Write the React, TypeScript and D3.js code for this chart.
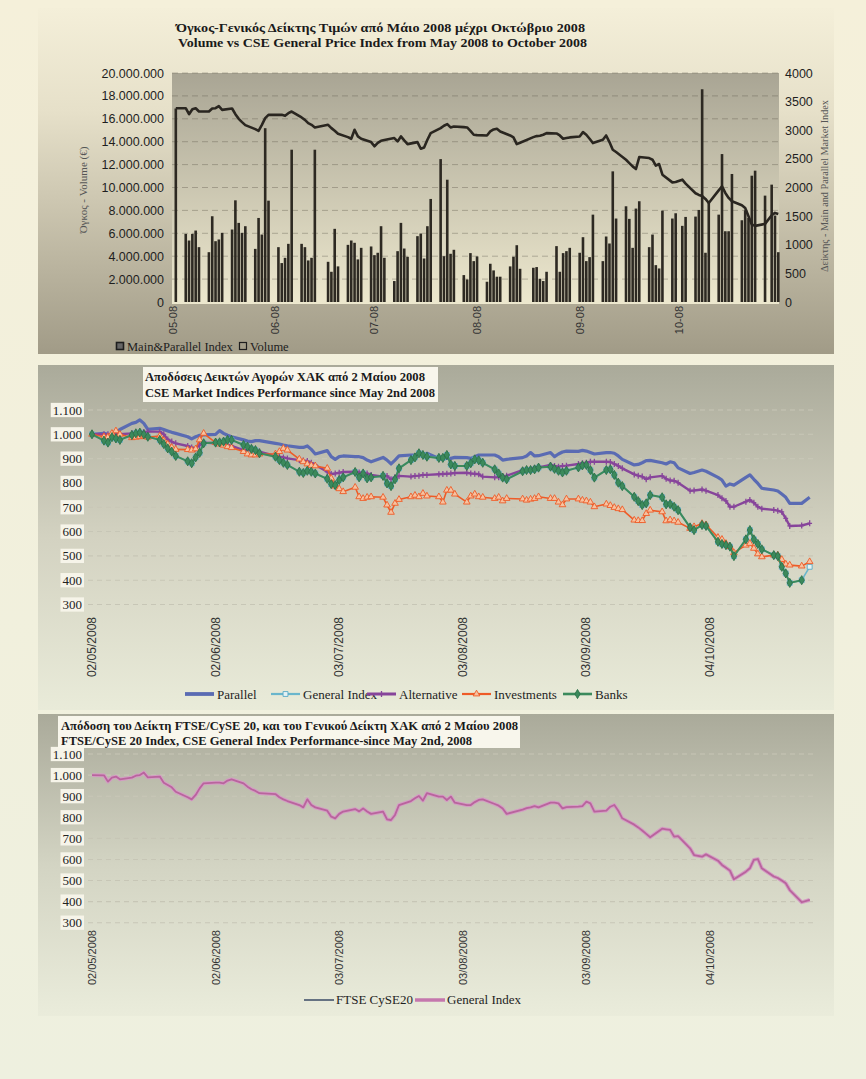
import * as d3 from "d3";

// trading days 2008 (month-day)
const TRADING_DAYS = [
  "05-02", "05-05", "05-06", "05-07", "05-08", "05-09", "05-12", "05-13", "05-14", "05-15", "05-16",
  "05-19", "05-20", "05-21", "05-22", "05-23", "05-26", "05-27", "05-28", "05-29", "05-30",
  "06-02", "06-03", "06-04", "06-05", "06-06", "06-09", "06-10", "06-11", "06-12", "06-13",
  "06-17", "06-18", "06-19", "06-20", "06-23", "06-24", "06-25", "06-26", "06-27", "06-30",
  "07-01", "07-02", "07-03", "07-04", "07-07", "07-08", "07-09", "07-10", "07-11", "07-14", "07-15",
  "07-16", "07-17", "07-18", "07-21", "07-22", "07-23", "07-24", "07-25", "07-28", "07-29", "07-30", "07-31",
  "08-01", "08-04", "08-05", "08-06", "08-07", "08-08", "08-11", "08-12", "08-13", "08-14",
  "08-18", "08-19", "08-20", "08-21", "08-22", "08-25", "08-26", "08-27", "08-28", "08-29",
  "09-01", "09-02", "09-03", "09-04", "09-05", "09-08", "09-09", "09-10", "09-11", "09-12",
  "09-15", "09-16", "09-17", "09-18", "09-19", "09-22", "09-23", "09-24", "09-25", "09-26", "09-29", "09-30",
  "10-02", "10-03", "10-06", "10-07", "10-08", "10-09", "10-10", "10-13", "10-14", "10-15", "10-16", "10-17",
  "10-20", "10-21", "10-22", "10-23", "10-24", "10-27", "10-29", "10-30", "10-31",
];

// chart 1: volume in millions of euro, main & parallel index
const VOLUME_M = [
  16.9,
  5.95, 5.37, 5.95, 6.24, 4.79, 4.35, 7.49, 5.31, 5.46, 6.04,
  6.33, 8.88, 6.91, 6.04, 6.62, 4.64, 7.34, 5.89, 15.18, 8.85,
  4.79, 3.4, 3.86, 5.08, 13.3, 5.08, 4.79, 3.63, 3.86, 13.3,
  3.51, 2.64, 6.39, 3.11, 4.99, 5.37, 5.17, 3.72, 4.73, 4.85,
  4.09, 4.3, 6.62, 3.86, 1.83, 4.44, 6.91, 4.67, 3.95, 5.75, 5.98,
  3.8, 6.62, 9.0, 12.48, 4.0, 10.68, 4.21, 4.56, 2.35, 1.97, 4.27, 3.57,
  3.98, 1.77, 3.34, 2.76, 2.21, 2.21, 3.11, 3.95, 4.96, 2.9,
  2.99, 3.05, 2.03, 1.83, 2.64, 4.88, 2.64, 4.27, 4.44, 4.73,
  4.3, 5.66, 3.57, 3.92, 7.63, 3.57, 5.72, 5.11, 11.41, 7.29,
  8.36, 7.26, 4.73, 8.16, 8.8, 4.79, 5.89, 3.22, 2.93, 7.98, 7.29, 7.75,
  6.65, 7.43, 7.46, 8.04, 18.58, 4.3, 8.68, 7.63, 12.92, 6.18, 6.18, 11.18,
  7.14, 8.01, 7.34, 11.03, 11.47, 9.29, 10.25, 7.55, 4.35,
];
const MAIN_INDEX = [
  3385,
  3385, 3281, 3368, 3385, 3327, 3327, 3380, 3385, 3420, 3356,
  3380, 3281, 3200, 3142, 3089, 3020, 2990, 3095, 3211, 3269,
  3269, 3269, 3252, 3298, 3327, 3223, 3182, 3124, 3095, 3049,
  3095, 3037, 2990, 2938, 2880, 2851, 3008, 2892, 2851, 2793,
  2720, 2780, 2816, 2828, 2863, 2805, 2892, 2822, 2758, 2793, 2677,
  2700, 2834, 2950, 3037, 3078, 3107, 3049, 3066, 3055, 3049, 2990, 2921,
  2915, 2909, 2979, 3014, 3026, 2979, 2909, 2875, 2758, 2782,
  2880, 2898, 2904, 2921, 2950, 2944, 2909, 2851, 2863, 2875,
  2892, 2967, 2921, 2851, 2776, 2834, 2909, 2793, 2660, 2619,
  2485, 2427, 2369, 2323, 2532, 2514, 2485, 2381, 2410, 2224, 2090, 2096,
  2137, 2067, 1900, 1870, 1850, 1800, 1730, 1950, 2021, 1905, 1818, 1760,
  1690, 1643, 1498, 1353, 1330, 1365, 1516, 1556, 1539,
];

// chart 2: market indices, base 1000 on 02/05/2008 (up to 29/10)
const PARALLEL = [
  1000,
  1004, 1000, 998, 1007, 1020, 1045, 1049, 1059, 1045, 1020,
  1025, 1020, 1014, 1008, 1004, 990, 981, 990, 996, 998,
  1000, 1015, 1004, 996, 990, 977, 972, 970, 974, 974,
  963, 960, 956, 953, 946, 946, 952, 938, 919, 933,
  908, 897, 908, 911, 908, 908, 904, 894, 887, 905, 894,
  878, 894, 911, 915, 915, 918, 919, 922, 901, 901, 901, 901,
  905, 904, 901, 908, 915, 915, 915, 908, 894, 897,
  904, 911, 925, 911, 912, 925, 908, 919, 927, 931,
  930, 934, 931, 925, 919, 925, 925, 922, 911, 897,
  874, 876, 883, 892, 893, 883, 878, 887, 883, 862, 839, 843,
  853, 848, 823, 812, 787, 796, 791, 823, 833, 815, 798, 778,
  771, 767, 754, 741, 716, 716, 741,
];
const ALTERNATIVE = [
  1000,
  1000, 1000, 1000, 1004, 1000, 1004, 1007, 1007, 1010, 1011,
  1011, 1000, 979, 970, 963, 952, 946, 942, 956, 966,
  963, 963, 961, 956, 952, 935, 935, 935, 933, 929,
  911, 908, 905, 901, 894, 892, 890, 883, 874, 846,
  837, 839, 842, 845, 846, 843, 839, 839, 833, 826, 829,
  815, 823, 829, 826, 829, 830, 833, 833, 836, 837, 838, 839,
  841, 842, 839, 838, 836, 826, 823, 823, 827, 830,
  853, 854, 856, 861, 864, 874, 870, 867, 870, 871,
  878, 881, 883, 887, 887, 887, 886, 878, 870, 860,
  835, 830, 826, 815, 823, 829, 817, 810, 809, 801, 768, 769,
  773, 768, 750, 737, 726, 702, 702, 723, 730, 719, 702, 694,
  689, 686, 681, 654, 623, 625, 634,
];
const INVESTMENTS = [
  1000,
  990, 989, 1004, 1014, 1000, 986, 988, 990, 993, 988,
  993, 974, 960, 946, 938, 937, 935, 940, 977, 1004,
  966, 960, 955, 949, 945, 929, 919, 915, 915, 919,
  919, 929, 942, 935, 898, 887, 878, 872, 870, 860,
  819, 787, 776, 764, 782, 743, 736, 741, 743, 741, 709,
  679, 716, 732, 743, 749, 743, 757, 746, 743, 721, 770, 770,
  754, 721, 746, 754, 743, 741, 736, 741, 726, 736,
  734, 729, 733, 736, 743, 736, 736, 721, 710, 734,
  734, 729, 726, 721, 702, 713, 707, 699, 694, 690,
  647, 645, 645, 674, 688, 681, 644, 648, 644, 638, 613, 620,
  633, 628, 576, 568, 551, 538, 513, 544, 551, 531, 508, 496,
  503, 503, 485, 466, 462, 458, 476,
];
const BANKS: (number | null)[] = [
  1000,
  974, 966, 988, 983, 977, 997, 1004, 1007, 1000, 990,
  977, 960, 942, 929, 911, 889, 881, 905, 924, 963,
  966, 967, 970, 977, 977, 956, 949, 940, 935, 922,
  908, 894, 883, 874, 846, 841, 850, 846, 839, 817,
  795, 791, 812, 823, 845, 823, 839, 819, 823, 829, 798,
  787, 815, 860, 894, 905, 922, 915, 908, 903, 903, 915, 876,
  870, 870, 881, 897, 893, 883, 856, 839, 822, 815,
  848, 853, 853, 856, 863, 867, 858, 850, 843, 850,
  864, 872, 874, 853, 822, 853, 856, 833, 801, 787,
  743, 725, 709, 716, 750, 741, 712, 713, 702, 688, 617, 606,
  627, 623, 558, 549, 544, 538, 499, 568, 606, 568, 549, 527,
  503, 499, 455, 428, 389, 400, null,
];
// General index in chart 2: drawn under Banks, only its last point shows apart
const GENERAL_LAST_IN_MARKET_CHART = 455;
// chart 3: CSE general index, base 1000
const GENERAL_INDEX = [
  1000,
  999, 969, 988, 993, 980, 988, 997, 1000, 1012, 989,
  993, 964, 953, 942, 921, 895, 885, 906, 937, 961,
  964, 964, 961, 974, 980, 961, 945, 933, 925, 914,
  910, 895, 885, 877, 858, 847, 885, 858, 847, 831,
  803, 795, 816, 827, 839, 828, 842, 827, 816, 827, 790,
  787, 811, 858, 877, 890, 901, 879, 914, 898, 898, 882, 898,
  869, 858, 858, 872, 882, 885, 863, 855, 842, 816,
  836, 843, 847, 853, 847, 869, 869, 866, 842, 848,
  850, 853, 874, 866, 827, 831, 850, 858, 831, 795,
  765, 752, 737, 721, 705, 746, 743, 740, 708, 711, 653, 621,
  613, 624, 594, 574, 561, 547, 506, 542, 558, 598, 602, 558,
  519, 512, 500, 487, 455, 397, 408,
];

const VOL_TICKS = [0, 2, 4, 6, 8, 10, 12, 14, 16, 18, 20];
const IDX_TICKS = [0, 500, 1000, 1500, 2000, 2500, 3000, 3500, 4000];
const PERF_TICKS = [300, 400, 500, 600, 700, 800, 900, 1000, 1100];
const MONTH_TICKS = ["2008-05-01", "2008-06-01", "2008-07-01", "2008-08-01", "2008-09-01", "2008-10-01"];
const PERF_DATE_TICKS = ["2008-05-02", "2008-06-02", "2008-07-03", "2008-08-03", "2008-09-03", "2008-10-04"];

const parse = d3.timeParse("%Y-%m-%d");
const days = TRADING_DAYS.map(d => parse("2008-" + d) as Date);
const perfDays = days.slice(0, GENERAL_INDEX.length);

const locale = d3.formatLocale({ decimal: ",", thousands: ".", grouping: [3], currency: ["", "€"] });
const dots = locale.format(",d");
const fmtMonth = d3.timeFormat("%m-%y");
const fmtDay = d3.timeFormat("%d/%m/%Y");

const SERIF = "'Liberation Serif', 'Times New Roman', serif";
const SANS = "'Liberation Sans', Arial, sans-serif";

const sym = (type: d3.SymbolType, size: number) => d3.symbol().type(type).size(size)() as string;
const SQUARE = sym(d3.symbolSquare, 24);
const DIAMOND = sym(d3.symbolDiamond, 24);
const TRIANGLE = sym(d3.symbolTriangle, 19);
const PLUS = "M0,-3V3M-2.4,0H2.4";

function labelBox(text: string, xr: number, y: number, fs: number) {
  const w = text.split("").reduce((s, c) => s + (c === "." ? 0.25 : 0.5), 0) * fs + 3;
  return <rect x={xr - w + 1} y={y - fs * 0.55} width={w + 1} height={fs * 1.1} fill="#f6f4e9" />;
}

function VolumeChart() {
  const x = d3.scaleTime().domain([parse("2008-05-01")!, parse("2008-11-01")!]).range([172.5, 781.6]);
  const yVol = d3.scaleLinear().domain([0, 20]).range([302, 73]);
  const yIdx = d3.scaleLinear().domain([0, 4000]).range([302, 73]);
  const line = d3.line<number>().x((_, i) => x(days[i])).y(d => yIdx(d));
  const bw = 2.6;
  return (
    <g>
      <rect x={38} y={8} width={796} height={346} fill="url(#panel1)" />
      <rect x={172} y={73} width={607} height={231} fill="url(#plot1)" />
      {VOL_TICKS.slice(1).map(t => (
        <line key={t} x1={172} x2={779} y1={yVol(t)} y2={yVol(t)}
          stroke="rgba(95,90,75,0.38)" strokeDasharray="6,4" />
      ))}
      {VOLUME_M.map((v, i) => (
        <rect key={i} x={x(days[i]) - bw / 2} y={yVol(v)} width={bw} height={yVol(0) - yVol(v)} fill="#2d2922" />
      ))}
      <path d={line(MAIN_INDEX) as string} fill="none" stroke="#2a2620" strokeWidth={2.6} strokeLinejoin="round" />
      {VOL_TICKS.map(t => (
        <text key={t} x={164} y={yVol(t) + 4.5} textAnchor="end" fontFamily={SANS} fontSize={12.5} fill="#1e1e1e">
          {dots(t * 1e6)}
        </text>
      ))}
      {IDX_TICKS.map(t => (
        <text key={t} x={785} y={yIdx(t) + 4.5} fontFamily={SANS} fontSize={12.5} fill="#1e1e1e">{t}</text>
      ))}
      {MONTH_TICKS.map(s => {
        const d = parse(s)!;
        return (
          <text key={s} transform={`translate(${x(d) + 4},306) rotate(-90)`} textAnchor="end"
            fontFamily={SANS} fontSize={11} fill="#333">{fmtMonth(d)}</text>
        );
      })}
      <text transform="translate(87,190) rotate(-90)" textAnchor="middle" fontFamily={SERIF} fontSize={11} fill="#555">
        Όγκος - Volume (€)
      </text>
      <text transform="translate(828,186) rotate(-90)" textAnchor="middle" fontFamily={SERIF} fontSize={10.5} fill="#555"
        textLength={172} lengthAdjust="spacingAndGlyphs">
        Δείκτης - Main and Parallel Market Index
      </text>
      <text x={176} y={32} fontFamily={SERIF} fontWeight="bold" fontSize={13} fill="#1a1a1a"
        textLength={409} lengthAdjust="spacingAndGlyphs">
        Όγκος-Γενικός Δείκτης Τιμών από Μάιο 2008 μέχρι Οκτώβριο 2008
      </text>
      <text x={178} y={47} fontFamily={SERIF} fontWeight="bold" fontSize={13} fill="#1a1a1a"
        textLength={409} lengthAdjust="spacingAndGlyphs">
        Volume vs CSE General Price Index from May 2008 to October 2008
      </text>
      <rect x={116.5} y={342.5} width={7} height={7} fill="#666" stroke="#1e1e1e" strokeWidth={1.6} />
      <text x={127} y={351} fontFamily={SERIF} fontSize={12.5} fill="#1e1e1e">Main&amp;Parallel Index</text>
      <rect x={239.5} y={342.5} width={7} height={7} fill="none" stroke="#1e1e1e" strokeWidth={1.2} />
      <text x={250} y={351} fontFamily={SERIF} fontSize={12.5} fill="#1e1e1e">Volume</text>
    </g>
  );
}

interface PerfSeries {
  name: string;
  values: (number | null)[];
  color: string;
  width: number;
  marker?: string;
  markerFill?: string;
  markerStroke?: string;
}

function PerfAxes({ y, x, labelTop, labelSize }: {
  y: d3.ScaleLinear<number, number>; x: d3.ScaleTime<number, number>; labelTop: number; labelSize: number;
}) {
  return (
    <g>
      {PERF_TICKS.map(t => (
        <line key={t} x1={88} x2={813} y1={y(t)} y2={y(t)} stroke="#c7c6b6" strokeWidth={1.1} strokeDasharray="5,4" />
      ))}
      {PERF_TICKS.map(t => (
        <g key={t}>
          {labelBox(dots(t), 82, y(t), 13)}
          <text x={82} y={y(t) + 4.5} textAnchor="end" fontFamily={SERIF} fontSize={13} fill="#222">{dots(t)}</text>
        </g>
      ))}
      {PERF_DATE_TICKS.map(s => {
        const d = parse(s)!;
        return (
          <text key={s} transform={`translate(${x(d) + 4},${labelTop}) rotate(-90)`} textAnchor="end"
            fontFamily={SANS} fontSize={labelSize} fill="#333">{fmtDay(d)}</text>
        );
      })}
    </g>
  );
}

function MarketChart() {
  const x = d3.scaleTime().domain([parse("2008-05-02")!, parse("2008-10-04")!]).range([92, 710]);
  const y = d3.scaleLinear().domain([300, 1100]).range([604.5, 410]);
  const line = d3.line<number | null>().defined(d => d != null).x((_, i) => x(perfDays[i])).y(d => y(d as number));
  const generalMkt = BANKS.slice(0, -1).concat([GENERAL_LAST_IN_MARKET_CHART]);
  const series: PerfSeries[] = [
    { name: "Parallel", values: PARALLEL, color: "#5a6bb3", width: 3.2 },
    { name: "General Index", values: generalMkt, color: "#6ab6cc", width: 1.6, marker: SQUARE, markerFill: "#e4f2f4", markerStroke: "#5aaac6" },
    { name: "Alternative", values: ALTERNATIVE, color: "#87459b", width: 2.4, marker: PLUS, markerFill: "none", markerStroke: "#87459b" },
    { name: "Investments", values: INVESTMENTS, color: "#ee5b27", width: 1.6, marker: TRIANGLE, markerFill: "#f6c2a0", markerStroke: "#ee5b27" },
    { name: "Banks", values: BANKS, color: "#3b8a5c", width: 2, marker: DIAMOND, markerFill: "#3b8a5c", markerStroke: "#2c7249" },
  ];
  const legendX = [185, 271, 367, 462, 563];
  return (
    <g>
      <rect x={38} y={365} width={796} height={345} fill="url(#panel2)" />
      <PerfAxes y={y} x={x} labelTop={617} labelSize={12} />
      {series.map(s => (
        <g key={s.name}>
          <path d={line(s.values) as string} fill="none" stroke={s.color} strokeWidth={s.width} strokeLinejoin="round" />
          {s.marker && s.values.map((v, i) => v == null ? null : (
            <path key={i} d={s.marker} transform={`translate(${x(perfDays[i])},${y(v)})`}
              fill={s.markerFill} stroke={s.markerStroke} strokeWidth={s.marker === PLUS ? 1.3 : 0.9} />
          ))}
        </g>
      ))}
      <rect x={143} y={367} width={295} height={35} fill="#f8f6ec" />
      <text x={145} y={381} fontFamily={SERIF} fontWeight="bold" fontSize={13} fill="#1a1a1a"
        textLength={280} lengthAdjust="spacingAndGlyphs">Αποδόσεις Δεικτών Αγορών ΧΑΚ από 2 Μαίου 2008</text>
      <text x={145} y={397} fontFamily={SERIF} fontWeight="bold" fontSize={13} fill="#1a1a1a"
        textLength={290} lengthAdjust="spacingAndGlyphs">CSE Market Indices Performance since May 2nd 2008</text>
      {series.map((s, i) => (
        <g key={s.name} transform={`translate(${legendX[i]},694)`}>
          <line x1={0} x2={29} y1={0} y2={0} stroke={s.color} strokeWidth={s.width + 0.6} />
          {s.marker && <path d={s.marker} transform="translate(14.5,0)" fill={s.markerFill} stroke={s.markerStroke}
            strokeWidth={s.marker === PLUS ? 1.3 : 0.9} />}
          <text x={32} y={5} fontFamily={SERIF} fontSize={13} fill="#1e1e1e">{s.name}</text>
        </g>
      ))}
    </g>
  );
}

function FtseChart() {
  const x = d3.scaleTime().domain([parse("2008-05-02")!, parse("2008-10-04")!]).range([92, 710]);
  const y = d3.scaleLinear().domain([300, 1100]).range([922.7, 754]);
  const line = d3.line<number>().x((_, i) => x(perfDays[i])).y(d => y(d));
  const path = line(GENERAL_INDEX) as string;
  return (
    <g>
      <rect x={38} y={714} width={796} height={302} fill="url(#panel3)" />
      <PerfAxes y={y} x={x} labelTop={930} labelSize={11} />
      <path d={path} fill="none" stroke="#44546c" strokeWidth={1.2} />
      <path d={path} fill="none" stroke="#d49cc4" strokeWidth={3.8} strokeLinejoin="round" />
      <path d={path} fill="none" stroke="#b9649d" strokeWidth={1.8} strokeLinejoin="round" />
      <rect x={58} y={716} width={462} height={32} fill="#f8f6ec" />
      <text x={61} y={730} fontFamily={SERIF} fontWeight="bold" fontSize={12.5} fill="#1a1a1a"
        textLength={457} lengthAdjust="spacingAndGlyphs">
        Απόδοση του Δείκτη FTSE/CySE 20, και του Γενικού Δείκτη ΧΑΚ από 2 Μαίου 2008
      </text>
      <text x={61} y={745} fontFamily={SERIF} fontWeight="bold" fontSize={12.5} fill="#1a1a1a"
        textLength={411} lengthAdjust="spacingAndGlyphs">
        FTSE/CySE 20 Index, CSE General Index Performance-since May 2nd, 2008
      </text>
      <line x1={304} x2={334} y1={1000} y2={1000} stroke="#44546c" strokeWidth={1.6} />
      <text x={336} y={1004} fontFamily={SERIF} fontSize={13} fill="#1e1e1e">FTSE CySE20</text>
      <line x1={415} x2={445} y1={1000} y2={1000} stroke="#c577ad" strokeWidth={3.5} />
      <text x={447} y={1004} fontFamily={SERIF} fontSize={13} fill="#1e1e1e">General Index</text>
    </g>
  );
}

export default function App() {
  return (
    <svg width={866} height={1079} style={{ position: "absolute", left: 0, top: 0, display: "block" }}>
      <defs>
        <linearGradient id="page" x1="0" y1="0" x2="0" y2="1">
          <stop offset="0" stopColor="#f5f0da" />
          <stop offset="1" stopColor="#eef0df" />
        </linearGradient>
        <linearGradient id="panel1" x1="0" y1="0" x2="0" y2="1">
          <stop offset="0" stopColor="#f4efd9" />
          <stop offset="0.3" stopColor="#e6e0c9" />
          <stop offset="1" stopColor="#a19b87" />
        </linearGradient>
        <linearGradient id="plot1" x1="0" y1="0" x2="0" y2="1">
          <stop offset="0" stopColor="#a9a594" />
          <stop offset="1" stopColor="#ede8ce" />
        </linearGradient>
        <linearGradient id="panel2" x1="0" y1="0" x2="0" y2="1">
          <stop offset="0" stopColor="#aaaa9a" />
          <stop offset="0.5" stopColor="#d3d2c1" />
          <stop offset="1" stopColor="#e9ebd9" />
        </linearGradient>
        <linearGradient id="panel3" x1="0" y1="0" x2="0" y2="1">
          <stop offset="0" stopColor="#aaaa9a" />
          <stop offset="0.5" stopColor="#d3d4c3" />
          <stop offset="1" stopColor="#eaecdb" />
        </linearGradient>
      </defs>
      <rect x={0} y={0} width={866} height={1079} fill="url(#page)" />
      <VolumeChart />
      <MarketChart />
      <FtseChart />
    </svg>
  );
}
